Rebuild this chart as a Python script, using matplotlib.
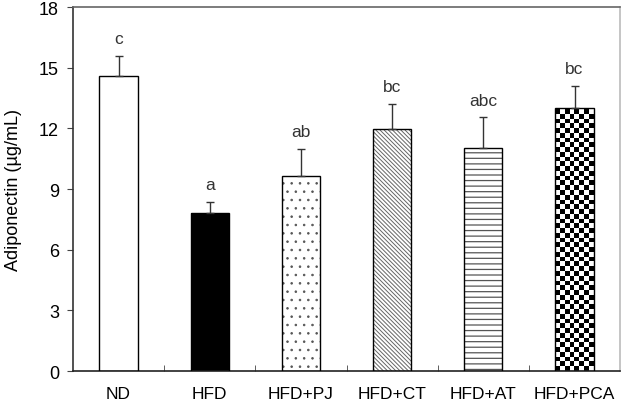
import matplotlib
matplotlib.use("Agg")
import matplotlib.pyplot as plt
import numpy as np

categories = ["ND", "HFD", "HFD+PJ", "HFD+CT", "HFD+AT", "HFD+PCA"]
means = [14.6, 7.8, 9.65, 11.95, 11.05, 13.0]
errors = [1.0, 0.55, 1.35, 1.25, 1.5, 1.1]
letters = ["c", "a", "ab", "bc", "abc", "bc"]
yticks = [0, 3, 6, 9, 12, 15, 18]

plt.rcParams['font.family'] = ['Liberation Sans', 'DejaVu Sans']

fig = plt.figure(figsize=(6.36, 4.06), dpi=100)
ax = fig.add_axes([0.1148, 0.0837, 0.975 - 0.1148, 0.980 - 0.0837])

x = np.arange(len(categories))
w = 0.42

faces = ["white", "black", "white", "white", "white", "white"]
hatches = [None, None, "..", r"\\\\\\\\", "---", None]
hatch_cols = [None, None, "#555555", "#666666", "#555555", None]
hatch_lw = [1, 1, 0.6, 0.7, 0.9, 1]

for i in range(len(categories)):
    if hatches[i]:
        with plt.rc_context({'hatch.linewidth': hatch_lw[i]}):
            ax.bar(x[i], means[i], w, color="white", edgecolor=hatch_cols[i],
                   hatch=hatches[i], linewidth=0, zorder=2)
    else:
        ax.bar(x[i], means[i], w, color=faces[i], linewidth=0, zorder=2)
    if i == 5:
        bar = ax.bar(x[i], means[i], w, color="none", linewidth=0, zorder=2)[0]
        ny = int(round(means[i] / 0.235))
        nx = 8
        grid = (np.add.outer(np.arange(ny), np.arange(nx)) % 2).astype(float)
        im = ax.imshow(grid, cmap="gray", interpolation="nearest", origin="lower",
                       extent=(x[i] - w / 2, x[i] + w / 2, 0, ny * 0.235),
                       aspect="auto", zorder=2.5)
        im.set_clip_path(bar)
    ax.bar(x[i], means[i], w, color="none", edgecolor="black", linewidth=1.0, zorder=3)

ax.errorbar(x, means, yerr=[np.zeros(len(errors)), errors], fmt="none",
            ecolor="#333333", elinewidth=1.0, capsize=3, capthick=1.0, zorder=4)

for i in range(len(categories)):
    ax.annotate(letters[i], (x[i], means[i] + errors[i]), xytext=(0, 7),
                textcoords="offset points", ha="center", va="bottom", fontsize=12.5,
                color="#333333")

ax.set_xlim(-0.5, len(categories) - 0.5)
ax.set_ylim(0, 18)
ax.set_yticks(yticks)
ax.set_xticks(x)
ax.set_xticklabels(categories, fontsize=12.5)
ax.tick_params(axis="x", length=0, pad=11)
ax.set_xticks(np.arange(0.5, len(categories) - 0.5, 1), minor=True)
ax.tick_params(axis="x", which="minor", direction="in", length=4, color="#444444")
ax.tick_params(axis="y", direction="out", length=4, pad=6, labelsize=13, color="#444444")
ax.set_ylabel("Adiponectin (µg/mL)", fontsize=13, labelpad=12)

ax.spines["left"].set_color("#333333")
ax.spines["bottom"].set_color("#222222")
ax.spines["top"].set_color("#666666")
ax.spines["right"].set_color("#bbbbbb")
for s in ax.spines.values():
    s.set_linewidth(1.2)

fig.savefig("out.png", dpi=100)
